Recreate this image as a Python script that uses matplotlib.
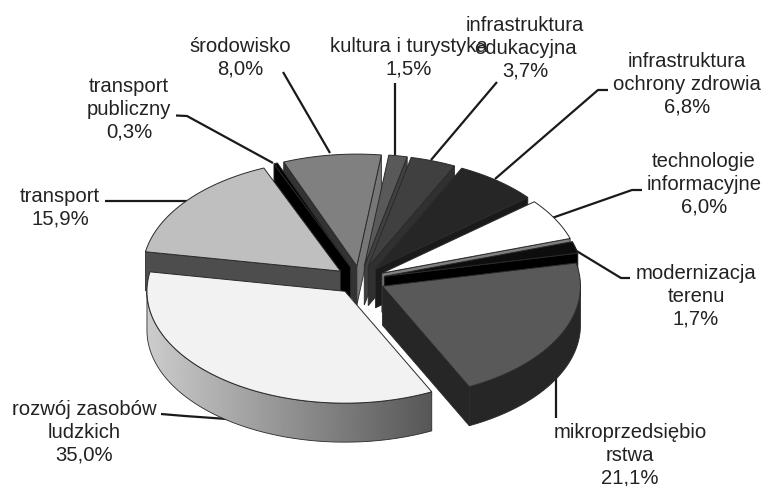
import matplotlib

matplotlib.use("Agg")
import matplotlib.pyplot as plt
import numpy as np
from matplotlib.patches import Polygon

plt.rcParams["font.family"] = ["Liberation Sans", "DejaVu Sans"]

# shares in percent, clockwise from the first slice
labels = ["rozwój zasobów\nludzkich", "transport", "transport\npubliczny", "środowisko",
          "kultura i turystyka", "infrastruktura\nedukacyjna", "infrastruktura\nochrony zdrowia",
          "technologie\ninformacyjne", "modernizacja\nterenu", "mikroprzedsiębio\nrstwa"]
shares = [35.0, 15.9, 0.3, 8.0, 1.5, 3.7, 6.8, 6.0, 1.7, 21.1]

top_colors = ["#f2f2f2", "#bfbfbf", "#000000", "#808080", "#595959",
              "#404040", "#262626", "#ffffff", "#0d0d0d", "#595959"]
side_colors = ["#808080", "#4d4d4d", "#000000", "#333333", "#404040",
               "#303030", "#1a1a1a", "#808080", "#000000", "#262626"]
# wall on the clockwise end of the slice, only differs for środowisko
end_colors = list(side_colors)
end_colors[3] = "#777777"

# label centre (px) and leader line (px) per slice
label_pos = [(84, 432), (60, 208), (129, 109), (240, 58), (409, 58),
             (525, 48), (687, 84), (704, 184), (696, 296), (630, 455)]
leaders = [[(161, 414), (185, 416), (227, 419)],
           [(105, 201), (187, 201)],
           [(176, 115.5), (187, 116), (273, 163)],
           [(283, 72), (330, 153)],
           [(395, 83), (395, 155)],
           [(497, 82), (431, 160)],
           [(608, 90), (598, 90), (495, 179)],
           [(642, 190), (632, 190), (552, 218)],
           [(630, 278), (621, 278), (570, 247)],
           [(555.7, 377), (555.7, 418)]]

CX, CY = 360, 280
RX, SQUASH = 198, 0.565
EXPLODE = 25
DEPTH = 39
START = -64
EDGE = "#2a2a2a"


def ell(angle, radius=RX):
    rad = np.radians(angle)
    return radius * np.cos(rad), -SQUASH * radius * np.sin(rad)


fig = plt.figure(figsize=(7.66, 4.86), dpi=100)
ax = fig.add_axes([0, 0, 1, 1])

edges = START - np.cumsum([0] + shares) * 3.6
mids = (edges[:-1] + edges[1:]) / 2

z = 2  # painter's order, back slices first
for i in np.argsort(-np.sin(np.radians(mids))):
    hi, lo, mid = edges[i], edges[i + 1], mids[i]
    ox, oy = ell(mid, EXPLODE)
    tx, ty = CX + ox, CY + oy
    arc = np.linspace(hi, lo, max(int(hi - lo) * 2, 3))
    ax_, ay_ = ell(arc)
    xs, ys = tx + ax_, ty + ay_

    # radial walls, only the ones facing the viewer
    if np.cos(np.radians(hi)) < 0:
        ax.fill([tx, xs[0], xs[0], tx], [ty, ys[0], ys[0] + DEPTH, ty + DEPTH],
                fc=side_colors[i], ec=EDGE, lw=0.6, zorder=z)
    if np.cos(np.radians(lo)) > 0:
        ax.fill([tx, xs[-1], xs[-1], tx], [ty, ys[-1], ys[-1] + DEPTH, ty + DEPTH],
                fc=end_colors[i], ec=EDGE, lw=0.6, zorder=z)

    # rim, front half only
    front = np.sin(np.radians(arc)) <= 0
    if front.sum() > 1:
        rx, ry = xs[front], ys[front]
        rim_x = np.r_[rx, rx[::-1]]
        rim_y = np.r_[ry, ry[::-1] + DEPTH]
        if i == 0:
            # big slice fades from light to dark, left to right
            grad = np.linspace(0.80, 0.34, 256).reshape(1, -1)
            im = ax.imshow(grad, cmap="gray", vmin=0, vmax=1, aspect="auto", zorder=z,
                           extent=[rx.min(), rx.max(), ry.max() + DEPTH, ry.min()])
            im.set_clip_path(Polygon(np.c_[rim_x, rim_y], transform=ax.transData))
            ax.fill(rim_x, rim_y, fc="none", ec=EDGE, lw=0.6, zorder=z)
        else:
            ax.fill(rim_x, rim_y, fc=side_colors[i], ec=EDGE, lw=0.6, zorder=z)

    # top face
    ax.fill(np.r_[tx, xs], np.r_[ty, ys], fc=top_colors[i], ec=EDGE, lw=0.7, zorder=z)
    z += 1

for line in leaders:
    px, py = zip(*line)
    ax.plot(px, py, color="#1a1a1a", lw=1.6, solid_capstyle="butt", zorder=1)

for name, share, (x, y) in zip(labels, shares, label_pos):
    ax.text(x, y, f"{name}\n{share:.1f}%".replace(".", ","), ha="center", va="center",
            fontsize=14.6, color="#222222", linespacing=1.25, zorder=50)

ax.set_xlim(0, 766)
ax.set_ylim(486, 0)
ax.axis("off")

fig.savefig("out.png", dpi=100)
